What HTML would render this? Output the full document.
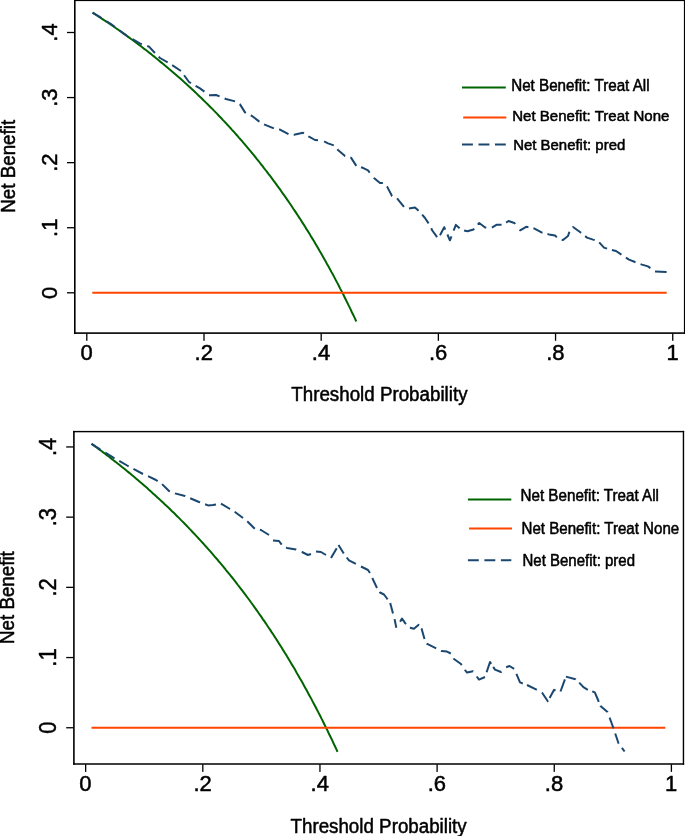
<!DOCTYPE html>
<html><head><meta charset="utf-8"><title>Decision curves</title>
<style>
html,body{margin:0;padding:0;background:#fff;}
svg{display:block;font-family:"Liberation Sans",sans-serif;}
text{fill:#000;stroke:#000;stroke-width:0.5px;stroke-linejoin:round;}
</style></head>
<body>
<div style="will-change:transform;width:685px;height:836px;overflow:hidden">
<svg width="685" height="836" viewBox="0 0 685 836">
<rect x="0" y="0" width="685" height="836" fill="#fff"/>
<g>
<polyline points="92.7,12.6 94.1,13.6 95.6,14.5 97.1,15.5 98.5,16.4 100.0,17.4 101.4,18.4 102.9,19.3 104.4,20.3 105.8,21.3 107.3,22.2 108.8,23.2 110.2,24.2 111.7,25.2 113.2,26.2 114.6,27.2 116.1,28.3 117.6,29.3 119.0,30.3 120.5,31.3 122.0,32.4 123.4,33.4 124.9,34.4 126.4,35.5 127.8,36.6 129.3,37.6 130.7,38.7 132.2,39.8 133.7,40.8 135.1,41.9 136.6,43.0 138.1,44.1 139.5,45.2 141.0,46.3 142.5,47.5 143.9,48.6 145.4,49.7 146.9,50.8 148.3,52.0 149.8,53.1 151.3,54.3 152.7,55.5 154.2,56.6 155.6,57.8 157.1,59.0 158.6,60.2 160.0,61.4 161.5,62.6 163.0,63.8 164.4,65.0 165.9,66.2 167.4,67.4 168.8,68.7 170.3,69.9 171.8,71.2 173.2,72.4 174.7,73.7 176.2,75.0 177.6,76.2 179.1,77.5 180.6,78.8 182.0,80.1 183.5,81.4 184.9,82.8 186.4,84.1 187.9,85.4 189.3,86.8 190.8,88.1 192.3,89.5 193.7,90.8 195.2,92.2 196.7,93.6 198.1,95.0 199.6,96.4 201.1,97.8 202.5,99.2 204.0,100.7 205.5,102.1 206.9,103.6 208.4,105.0 209.8,106.5 211.3,107.9 212.8,109.4 214.2,110.9 215.7,112.4 217.2,113.9 218.6,115.5 220.1,117.0 221.6,118.5 223.0,120.1 224.5,121.6 226.0,123.2 227.4,124.8 228.9,126.4 230.4,128.0 231.8,129.6 233.3,131.2 234.8,132.9 236.2,134.5 237.7,136.2 239.1,137.9 240.6,139.5 242.1,141.2 243.5,142.9 245.0,144.6 246.5,146.4 247.9,148.1 249.4,149.9 250.9,151.6 252.3,153.4 253.8,155.2 255.3,157.0 256.7,158.8 258.2,160.6 259.7,162.5 261.1,164.3 262.6,166.2 264.0,168.1 265.5,170.0 267.0,171.9 268.4,173.8 269.9,175.7 271.4,177.7 272.8,179.6 274.3,181.6 275.8,183.6 277.2,185.6 278.7,187.6 280.2,189.7 281.6,191.7 283.1,193.8 284.6,195.9 286.0,197.9 287.5,200.1 289.0,202.2 290.4,204.3 291.9,206.5 293.3,208.7 294.8,210.9 296.3,213.1 297.7,215.3 299.2,217.6 300.7,219.8 302.1,222.1 303.6,224.4 305.1,226.7 306.5,229.1 308.0,231.4 309.5,233.8 310.9,236.2 312.4,238.6 313.9,241.1 315.3,243.5 316.8,246.0 318.3,248.5 319.7,251.0 321.2,253.5 322.6,256.1 324.1,258.7 325.6,261.3 327.0,263.9 328.5,266.5 330.0,269.2 331.4,271.9 332.9,274.6 334.4,277.4 335.8,280.1 337.3,282.9 338.8,285.7 340.2,288.6 341.7,291.4 343.2,294.3 344.6,297.2 346.1,300.2 347.5,303.1 349.0,306.1 350.5,309.1 351.9,312.2 353.4,315.2 354.9,318.4 356.3,321.5" fill="none" stroke="#006400" stroke-width="2"/>
<line x1="92.3" y1="292.8" x2="666.7" y2="292.8" stroke="#ff4500" stroke-width="2.1"/>
<g fill="none" stroke="#1a476f" stroke-width="2" stroke-linejoin="round"><polyline points="92.5,12.6 111.0,24.0 127.0,36.0 141.0,44.0 141.9,44.3" stroke-dasharray="10.69 5.35"/>
<polyline points="147.2,46.0 149.0,46.6 154.0,52.0 160.0,58.0 169.0,63.0 181.0,71.0 189.0,82.0 197.0,86.6 200.0,88.4 204.4,91.6" stroke-dasharray="10.61 5.30"/>
<polyline points="209.0,95.2 216.0,95.0 226.0,99.0 236.0,101.6 240.0,104.4 245.0,112.4 252.0,116.0 259.0,121.4 259.5,121.7" stroke-dasharray="10.86 5.43"/>
<polyline points="264.0,124.4 274.0,128.4 280.0,129.6 289.0,134.4 294.0,134.8 303.0,132.8 309.0,136.6 315.0,140.0 318.0,140.2" stroke-dasharray="10.61 5.30"/>
<polyline points="324.1,141.4 328.0,143.4 334.0,145.4 338.0,150.0 345.0,156.0 351.0,157.6 357.0,167.0 362.4,167.6 368.0,170.4 369.7,172.6" stroke-dasharray="10.52 5.26"/>
<polyline points="373.8,177.8 374.0,178.0 380.0,183.0 383.6,183.0 387.0,186.4 392.0,196.0 397.0,198.4 404.0,207.0" stroke-dasharray="10.98 5.49"/>
<polyline points="409.0,208.5 415.0,207.5 419.0,211.0 425.0,218.0 428.6,223.4" stroke-dasharray="10.84 5.42"/>
<polyline points="431.2,228.3 432.3,230.5 437.1,237.1"/>
<polyline points="440.0,235.2 444.2,227.2 445.2,229.6"/>
<polyline points="447.4,234.5 449.9,240.3 451.5,236.3"/>
<polyline points="453.6,230.7 455.9,224.9 459.6,228.2"/>
<polyline points="464.1,230.5 467.5,231.2 473.4,229.5 479.2,223.0 485.1,227.5 486.3,227.6" stroke-dasharray="10.78 5.39"/>
<polyline points="491.9,227.6 496.8,224.7 502.7,224.8 508.5,221.0 514.4,223.0 515.2,224.0" stroke-dasharray="10.45 5.22"/>
<polyline points="519.6,229.6 520.2,230.3 526.1,226.8 534.0,228.4 542.0,232.6 549.0,234.4 555.0,235.6 556.9,237.2" stroke-dasharray="10.17 5.08"/>
<polyline points="561.7,239.7 563.0,240.0 568.0,236.0 569.4,231.8"/>
<polyline points="572.7,227.3 573.0,227.0 580.0,232.0 587.0,237.6 593.0,239.6 598.0,241.0 604.0,247.6 607.1,248.6" stroke-dasharray="10.43 5.21"/>
<polyline points="611.9,250.0 616.0,251.0 622.0,255.0 629.0,259.6 635.0,262.0 642.0,264.6 648.0,266.4 650.4,268.1" stroke-dasharray="10.74 5.37"/>
<polyline points="655.0,271.5 666.6,271.9"/></g>
<g fill="#000">
<rect x="74.0" y="-1" width="1.60" height="334.90"/>
<rect x="683.9" y="-1" width="2.10" height="334.90"/>
<rect x="74.0" y="-1" width="612.00" height="2.10"/>
<rect x="74.0" y="332.3" width="612.00" height="1.60"/>
<rect x="67.0" y="292.15" width="7.50" height="1.3"/>
<rect x="67.0" y="227.08" width="7.50" height="1.3"/>
<rect x="67.0" y="162.00" width="7.50" height="1.3"/>
<rect x="67.0" y="96.92" width="7.50" height="1.3"/>
<rect x="67.0" y="31.85" width="7.50" height="1.3"/>
<rect x="86.15" y="333.40" width="1.3" height="7.40"/>
<rect x="203.34" y="333.40" width="1.3" height="7.40"/>
<rect x="320.53" y="333.40" width="1.3" height="7.40"/>
<rect x="437.72" y="333.40" width="1.3" height="7.40"/>
<rect x="554.91" y="333.40" width="1.3" height="7.40"/>
<rect x="672.10" y="333.40" width="1.3" height="7.40"/>
</g>
<g font-size="22" text-anchor="middle">
<text transform="translate(56.8,292.80) rotate(-90) scale(0.973,1)" font-size="22.6">0</text>
<text transform="translate(56.8,227.73) rotate(-90) scale(0.973,1)" font-size="22.6">.1</text>
<text transform="translate(56.8,162.65) rotate(-90) scale(0.973,1)" font-size="22.6">.2</text>
<text transform="translate(56.8,97.57) rotate(-90) scale(0.973,1)" font-size="22.6">.3</text>
<text transform="translate(56.8,32.50) rotate(-90) scale(0.973,1)" font-size="22.6">.4</text>
<text x="86.60" y="360.0">0</text>
<text x="203.79" y="360.0">.2</text>
<text x="320.98" y="360.0">.4</text>
<text x="438.17" y="360.0">.6</text>
<text x="555.36" y="360.0">.8</text>
<text x="672.55" y="360.0">1</text>
</g>
<text transform="translate(15.0,166.3) rotate(-90) scale(0.948,1)" text-anchor="middle" font-size="19.8">Net Benefit</text>
<text transform="translate(379.4,400.75) scale(0.948,1)" text-anchor="middle" font-size="19.8">Threshold Probability</text>
<line x1="462" y1="87.5" x2="505.8" y2="87.5" stroke="#006400" stroke-width="2"/>
<text transform="translate(511.2,90.8) scale(1,1.03)" font-size="15.2">Net Benefit: Treat All</text>
<line x1="463.2" y1="117.6" x2="506.3" y2="117.6" stroke="#ff4500" stroke-width="2"/>
<text transform="translate(512.2,120.9) scale(1,1.03)" font-size="15.05">Net Benefit: Treat None</text>
<line x1="462" y1="144.5" x2="505.8" y2="144.5" stroke="#1a476f" stroke-width="2" stroke-dasharray="10.9 5.6"/>
<text transform="translate(513.2,150.1) scale(1,1.03)" font-size="14.95">Net Benefit: pred</text>
</g>
<g>
<polyline points="91.5,443.8 93.0,444.8 94.4,445.9 95.9,447.0 97.4,448.0 98.8,449.1 100.3,450.2 101.8,451.3 103.2,452.4 104.7,453.5 106.2,454.6 107.6,455.7 109.1,456.8 110.5,457.9 112.0,459.1 113.5,460.2 114.9,461.4 116.4,462.5 117.9,463.7 119.3,464.8 120.8,466.0 122.3,467.2 123.7,468.3 125.2,469.5 126.7,470.7 128.1,471.9 129.6,473.1 131.0,474.3 132.5,475.6 134.0,476.8 135.4,478.0 136.9,479.3 138.4,480.5 139.8,481.8 141.3,483.0 142.8,484.3 144.2,485.6 145.7,486.8 147.2,488.1 148.6,489.4 150.1,490.7 151.5,492.0 153.0,493.4 154.5,494.7 155.9,496.0 157.4,497.4 158.9,498.7 160.3,500.1 161.8,501.4 163.3,502.8 164.7,504.2 166.2,505.6 167.7,506.9 169.1,508.3 170.6,509.8 172.0,511.2 173.5,512.6 175.0,514.0 176.4,515.5 177.9,516.9 179.4,518.4 180.8,519.9 182.3,521.4 183.8,522.8 185.2,524.3 186.7,525.8 188.2,527.4 189.6,528.9 191.1,530.4 192.5,532.0 194.0,533.5 195.5,535.1 196.9,536.6 198.4,538.2 199.9,539.8 201.3,541.4 202.8,543.0 204.3,544.7 205.7,546.3 207.2,547.9 208.7,549.6 210.1,551.2 211.6,552.9 213.1,554.6 214.5,556.3 216.0,558.0 217.4,559.7 218.9,561.5 220.4,563.2 221.8,564.9 223.3,566.7 224.8,568.5 226.2,570.3 227.7,572.1 229.2,573.9 230.6,575.7 232.1,577.5 233.6,579.4 235.0,581.2 236.5,583.1 237.9,585.0 239.4,586.9 240.9,588.8 242.3,590.7 243.8,592.6 245.3,594.6 246.7,596.5 248.2,598.5 249.7,600.5 251.1,602.5 252.6,604.5 254.1,606.6 255.5,608.6 257.0,610.7 258.4,612.7 259.9,614.8 261.4,616.9 262.8,619.1 264.3,621.2 265.8,623.3 267.2,625.5 268.7,627.7 270.2,629.9 271.6,632.1 273.1,634.3 274.6,636.6 276.0,638.8 277.5,641.1 278.9,643.4 280.4,645.7 281.9,648.0 283.3,650.4 284.8,652.8 286.3,655.1 287.7,657.5 289.2,660.0 290.7,662.4 292.1,664.9 293.6,667.3 295.1,669.8 296.5,672.4 298.0,674.9 299.4,677.4 300.9,680.0 302.4,682.6 303.8,685.2 305.3,687.9 306.8,690.5 308.2,693.2 309.7,695.9 311.2,698.6 312.6,701.4 314.1,704.2 315.6,707.0 317.0,709.8 318.5,712.6 320.0,715.5 321.4,718.4 322.9,721.3 324.3,724.2 325.8,727.2 327.3,730.1 328.7,733.2 330.2,736.2 331.7,739.2 333.1,742.3 334.6,745.5 336.1,748.6 337.5,751.8" fill="none" stroke="#006400" stroke-width="2"/>
<line x1="91.5" y1="727.75" x2="665.3" y2="727.75" stroke="#ff4500" stroke-width="2.1"/>
<g fill="none" stroke="#1a476f" stroke-width="2" stroke-linejoin="round"><polyline points="91.6,443.8 100.0,449.4 113.0,457.4 128.0,466.0 143.0,474.0" stroke-dasharray="10.85 5.42"/>
<polyline points="148.1,476.2 149.0,476.6 156.0,480.0 162.0,484.0 169.0,491.0 175.0,493.4 185.0,496.0 199.0,502.0 200.1,502.4" stroke-dasharray="10.74 5.37"/>
<polyline points="205.1,504.3 208.0,505.4 213.0,505.0 216.0,504.4"/>
<polyline points="221.0,503.6 230.0,509.0 235.0,512.0 243.0,518.0 248.0,522.0 255.0,529.0 261.0,530.0 269.0,535.0" stroke-dasharray="10.57 5.29"/>
<polyline points="273.0,540.4 279.0,541.0 282.0,545.0 287.0,548.0 296.0,549.4 296.3,549.5" stroke-dasharray="10.53 5.27"/>
<polyline points="301.7,551.9 302.0,552.0 308.0,555.0 311.0,554.0"/>
<polyline points="316.0,551.6 321.0,552.0 326.0,555.0"/>
<polyline points="331.0,558.0 336.7,548.2"/>
<polyline points="338.5,545.0 343.8,553.6"/>
<polyline points="346.7,557.5 349.0,560.4 356.0,564.0 362.0,567.0 368.0,570.0 370.0,573.0" stroke-dasharray="11.42 5.71"/>
<polyline points="372.3,578.0 377.0,588.0"/>
<polyline points="379.6,591.9 380.0,592.5 384.0,594.5 387.0,598.5 387.6,599.3"/>
<polyline points="390.2,603.1 393.0,613.4 393.0,613.4"/>
<polyline points="394.6,619.1 396.3,627.7"/>
<polyline points="400.1,621.7 402.0,618.5 405.5,623.6 406.1,624.1"/>
<polyline points="409.9,627.7 410.0,627.7 413.9,628.7 418.7,624.7 418.8,624.9"/>
<polyline points="421.4,628.4 421.6,628.7 424.5,638.9"/>
<polyline points="426.6,643.6 426.7,643.7 436.2,648.4"/>
<polyline points="441.1,650.9 441.3,651.0 447.0,651.6 450.8,653.5"/>
<polyline points="453.7,658.4 454.0,659.0 461.0,664.0 461.7,665.1"/>
<polyline points="464.8,669.7 465.0,670.0 467.0,672.6 473.0,671.3 473.1,671.4"/>
<polyline points="476.7,676.5 479.0,679.6 485.0,677.0"/>
<polyline points="486.6,672.2 490.0,662.0 491.2,663.9"/>
<polyline points="493.2,666.9 495.0,669.6 501.0,672.0 501.5,671.5"/>
<polyline points="506.1,667.2 509.5,666.0 514.1,668.9"/>
<polyline points="516.4,673.8 520.0,682.4 522.8,683.5"/>
<polyline points="527.0,685.0 536.0,689.4 536.8,689.9"/>
<polyline points="541.8,692.7 542.3,693.0 547.8,701.2 547.9,701.0"/>
<polyline points="549.6,698.0 554.1,689.8 555.5,690.6"/>
<polyline points="560.5,691.5 564.9,679.3"/>
<polyline points="565.9,676.6 575.5,679.3 575.7,679.5"/>
<polyline points="579.2,682.6 583.4,687.2 587.8,689.8"/>
<polyline points="592.2,691.4 594.8,692.4 597.4,698.5 598.8,701.9"/>
<polyline points="600.4,705.8 600.5,706.0 607.5,712.0 607.6,712.3"/>
<polyline points="609.6,717.7 613.2,727.5 613.5,728.4"/>
<polyline points="615.2,733.5 618.6,743.5 618.7,743.6"/>
<polyline points="621.9,747.9 624.6,751.5"/></g>
<g fill="#000">
<rect x="73.1" y="430.9" width="1.60" height="333.85"/>
<rect x="682.75" y="430.9" width="1.40" height="333.85"/>
<rect x="73.1" y="430.9" width="611.05" height="1.40"/>
<rect x="73.1" y="763.25" width="611.05" height="1.50"/>
<rect x="66.2" y="727.10" width="7.40" height="1.3"/>
<rect x="66.2" y="656.90" width="7.40" height="1.3"/>
<rect x="66.2" y="586.70" width="7.40" height="1.3"/>
<rect x="66.2" y="516.50" width="7.40" height="1.3"/>
<rect x="66.2" y="446.30" width="7.40" height="1.3"/>
<rect x="85.00" y="764.25" width="1.3" height="7.65"/>
<rect x="202.15" y="764.25" width="1.3" height="7.65"/>
<rect x="319.30" y="764.25" width="1.3" height="7.65"/>
<rect x="436.45" y="764.25" width="1.3" height="7.65"/>
<rect x="553.60" y="764.25" width="1.3" height="7.65"/>
<rect x="670.75" y="764.25" width="1.3" height="7.65"/>
</g>
<g font-size="22" text-anchor="middle">
<text transform="translate(55.9,727.75) rotate(-90) scale(0.940,1)" font-size="23.4">0</text>
<text transform="translate(55.9,657.55) rotate(-90) scale(0.940,1)" font-size="23.4">.1</text>
<text transform="translate(55.9,587.35) rotate(-90) scale(0.940,1)" font-size="23.4">.2</text>
<text transform="translate(55.9,517.15) rotate(-90) scale(0.940,1)" font-size="23.4">.3</text>
<text transform="translate(55.9,446.95) rotate(-90) scale(0.940,1)" font-size="23.4">.4</text>
<text x="85.45" y="791.0">0</text>
<text x="202.60" y="791.0">.2</text>
<text x="319.75" y="791.0">.4</text>
<text x="436.90" y="791.0">.6</text>
<text x="554.05" y="791.0">.8</text>
<text x="671.20" y="791.0">1</text>
</g>
<text transform="translate(14.1,597.6) rotate(-90) scale(0.948,1)" text-anchor="middle" font-size="19.8">Net Benefit</text>
<text transform="translate(378.6,832.6) scale(0.948,1)" text-anchor="middle" font-size="19.8">Threshold Probability</text>
<line x1="467.9" y1="499.6" x2="511.3" y2="499.6" stroke="#006400" stroke-width="2"/>
<text transform="translate(520.5,501.0) scale(1,1.07)" font-size="15.2">Net Benefit: Treat All</text>
<line x1="469.1" y1="528.4" x2="512.0" y2="528.4" stroke="#ff4500" stroke-width="2"/>
<text transform="translate(521.5,533.8) scale(1,1.07)" font-size="15.1">Net Benefit: Treat None</text>
<line x1="467.9" y1="560.2" x2="511.3" y2="560.2" stroke="#1a476f" stroke-width="2" stroke-dasharray="10.9 5.6"/>
<text transform="translate(522.55,565.6) scale(1,1.07)" font-size="15.0">Net Benefit: pred</text>
</g>
</svg>
</div>
</body></html>
